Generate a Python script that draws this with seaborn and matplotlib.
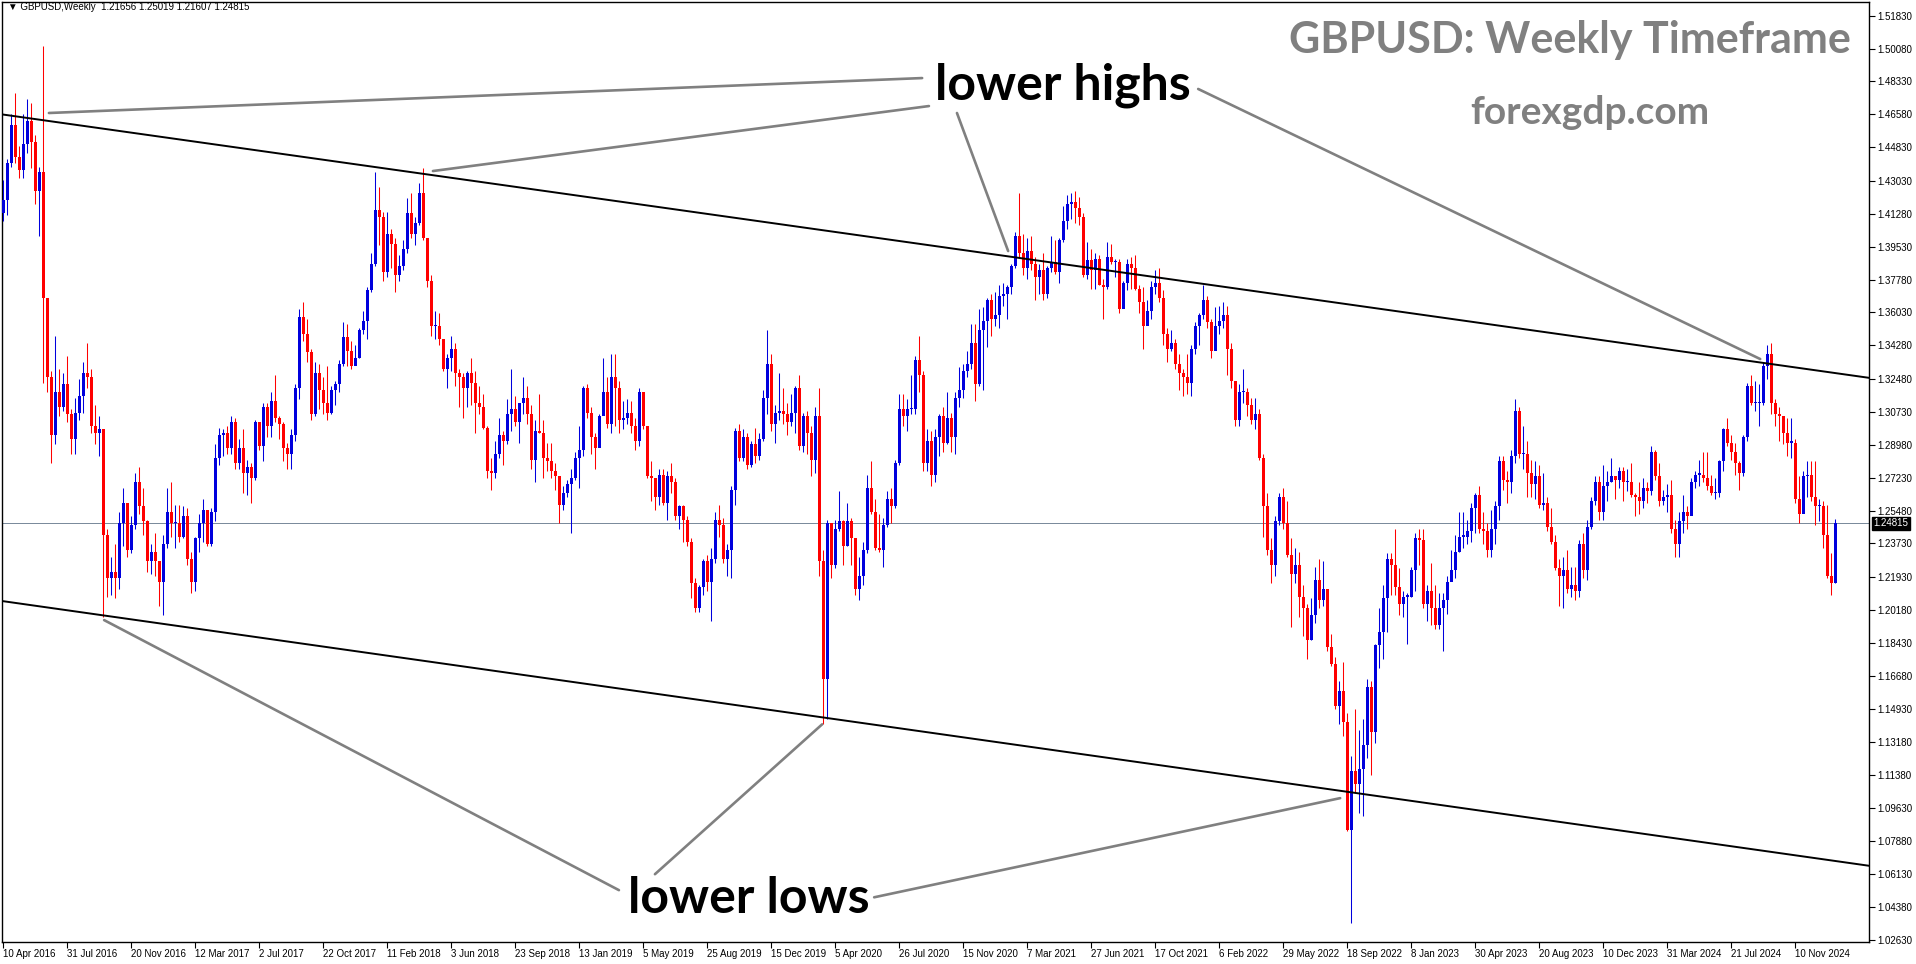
import numpy as np
import matplotlib
matplotlib.use("Agg")
import matplotlib.pyplot as plt
import seaborn as sns

# GBPUSD weekly candles, one value per week (week starts on Sunday 10 Apr 2016)
first_open = 1.413

close_2016 = [1.420, 1.440, 1.460, 1.443, 1.436, 1.450, 1.462, 1.451, 1.425, 1.435,
              1.368, 1.326, 1.295, 1.318, 1.310, 1.322, 1.306, 1.293, 1.307, 1.316,
              1.328, 1.326, 1.300, 1.296, 1.298, 1.242, 1.219, 1.222, 1.219, 1.248,
              1.259, 1.234, 1.247, 1.270, 1.257, 1.249, 1.228, 1.233]
high_2016 = [1.431, 1.442, 1.466, 1.477, 1.449, 1.466, 1.474, 1.472, 1.455, 1.438,
             1.502, 1.353, 1.329, 1.348, 1.330, 1.328, 1.337, 1.309, 1.315, 1.325,
             1.334, 1.344, 1.330, 1.311, 1.305, 1.291, 1.245, 1.230, 1.237, 1.254,
             1.267, 1.255, 1.252, 1.275, 1.278, 1.267, 1.250, 1.237]
low_2016 = [1.409, 1.412, 1.438, 1.440, 1.432, 1.432, 1.445, 1.437, 1.418, 1.401,
            1.323, 1.318, 1.280, 1.290, 1.305, 1.308, 1.302, 1.285, 1.285, 1.303,
            1.307, 1.320, 1.296, 1.290, 1.284, 1.198, 1.209, 1.210, 1.208, 1.213,
            1.236, 1.230, 1.232, 1.245, 1.253, 1.242, 1.222, 1.221]

close_2017 = [1.228, 1.217, 1.237, 1.254, 1.248, 1.248, 1.241, 1.252, 1.229, 1.217,
              1.240, 1.248, 1.255, 1.237, 1.254, 1.283, 1.295, 1.296, 1.288, 1.302,
              1.280, 1.288, 1.275, 1.278, 1.272, 1.302, 1.289, 1.310, 1.300, 1.313,
              1.304, 1.301, 1.288, 1.285, 1.295, 1.320, 1.358, 1.349, 1.339, 1.306,
              1.328, 1.319, 1.312, 1.307, 1.319, 1.322, 1.333, 1.347, 1.340, 1.332,
              1.336, 1.351, 1.356]
high_2017 = [1.243, 1.226, 1.242, 1.267, 1.270, 1.258, 1.258, 1.257, 1.256, 1.233,
             1.241, 1.253, 1.261, 1.255, 1.256, 1.290, 1.299, 1.298, 1.300, 1.305,
             1.304, 1.293, 1.298, 1.282, 1.280, 1.303, 1.302, 1.312, 1.312, 1.318,
             1.327, 1.305, 1.302, 1.291, 1.298, 1.322, 1.362, 1.366, 1.357, 1.341,
             1.334, 1.333, 1.326, 1.332, 1.321, 1.324, 1.335, 1.355, 1.354, 1.345,
             1.343, 1.352, 1.361]
low_2017 = [1.220, 1.204, 1.199, 1.235, 1.241, 1.235, 1.238, 1.240, 1.226, 1.211,
            1.212, 1.233, 1.238, 1.236, 1.236, 1.249, 1.279, 1.284, 1.285, 1.285,
            1.277, 1.277, 1.264, 1.263, 1.259, 1.271, 1.287, 1.281, 1.294, 1.294,
            1.302, 1.293, 1.281, 1.277, 1.277, 1.292, 1.314, 1.345, 1.334, 1.303,
            1.305, 1.309, 1.306, 1.303, 1.306, 1.311, 1.318, 1.332, 1.332, 1.330,
            1.333, 1.336, 1.349]

close_2018 = [1.372, 1.386, 1.415, 1.411, 1.382, 1.402, 1.397, 1.380, 1.385, 1.394,
              1.413, 1.402, 1.408, 1.424, 1.400, 1.377, 1.353, 1.353, 1.346, 1.330,
              1.336, 1.341, 1.328, 1.326, 1.320, 1.328, 1.323, 1.312, 1.310, 1.299,
              1.276, 1.275, 1.285, 1.295, 1.292, 1.306, 1.309, 1.302, 1.312, 1.315,
              1.306, 1.282, 1.297, 1.296, 1.283, 1.281, 1.276, 1.273, 1.258, 1.264,
              1.269, 1.272]
high_2018 = [1.374, 1.392, 1.435, 1.427, 1.414, 1.414, 1.405, 1.400, 1.391, 1.399,
             1.421, 1.424, 1.411, 1.429, 1.437, 1.400, 1.380, 1.361, 1.360, 1.346,
             1.338, 1.348, 1.344, 1.330, 1.328, 1.329, 1.336, 1.329, 1.321, 1.317,
             1.300, 1.283, 1.292, 1.304, 1.297, 1.314, 1.330, 1.316, 1.312, 1.326,
             1.321, 1.311, 1.303, 1.317, 1.303, 1.291, 1.291, 1.280, 1.270, 1.268,
             1.271, 1.277]
low_2018 = [1.346, 1.371, 1.385, 1.396, 1.377, 1.379, 1.384, 1.371, 1.377, 1.383,
            1.392, 1.400, 1.396, 1.407, 1.399, 1.374, 1.348, 1.346, 1.343, 1.329,
            1.320, 1.329, 1.321, 1.310, 1.304, 1.310, 1.311, 1.296, 1.306, 1.298,
            1.272, 1.266, 1.272, 1.283, 1.279, 1.290, 1.297, 1.300, 1.291, 1.306,
            1.301, 1.277, 1.270, 1.296, 1.272, 1.276, 1.272, 1.266, 1.248, 1.255,
            1.262, 1.243]

close_2019 = [1.283, 1.287, 1.320, 1.307, 1.294, 1.288, 1.305, 1.318, 1.301, 1.326,
              1.320, 1.303, 1.304, 1.307, 1.300, 1.292, 1.318, 1.300, 1.273, 1.272,
              1.262, 1.274, 1.259, 1.273, 1.270, 1.252, 1.257, 1.250, 1.238, 1.216,
              1.203, 1.214, 1.228, 1.217, 1.229, 1.250, 1.247, 1.229, 1.234, 1.266,
              1.297, 1.283, 1.294, 1.279, 1.290, 1.284, 1.293, 1.315, 1.333, 1.301,
              1.307, 1.308]
high_2019 = [1.286, 1.300, 1.321, 1.322, 1.310, 1.296, 1.306, 1.336, 1.326, 1.338,
             1.338, 1.324, 1.313, 1.314, 1.313, 1.304, 1.320, 1.318, 1.300, 1.281,
             1.272, 1.277, 1.277, 1.276, 1.280, 1.272, 1.258, 1.258, 1.252, 1.240,
             1.219, 1.215, 1.229, 1.231, 1.235, 1.254, 1.258, 1.251, 1.237, 1.268,
             1.299, 1.301, 1.298, 1.296, 1.292, 1.299, 1.296, 1.319, 1.351, 1.338,
             1.311, 1.328]
low_2019 = [1.271, 1.267, 1.284, 1.304, 1.285, 1.277, 1.290, 1.306, 1.299, 1.296,
            1.300, 1.296, 1.298, 1.301, 1.296, 1.287, 1.289, 1.298, 1.272, 1.260,
            1.255, 1.258, 1.258, 1.250, 1.264, 1.250, 1.245, 1.238, 1.236, 1.208,
            1.201, 1.201, 1.210, 1.212, 1.196, 1.227, 1.241, 1.227, 1.220, 1.219,
            1.258, 1.281, 1.281, 1.277, 1.278, 1.280, 1.282, 1.292, 1.306, 1.297,
            1.291, 1.303]

close_2020 = [1.306, 1.302, 1.307, 1.320, 1.289, 1.305, 1.296, 1.282, 1.305, 1.228,
              1.165, 1.248, 1.226, 1.245, 1.249, 1.236, 1.249, 1.240, 1.213, 1.220,
              1.234, 1.267, 1.254, 1.235, 1.234, 1.247, 1.261, 1.257, 1.280, 1.309,
              1.305, 1.309, 1.309, 1.335, 1.327, 1.280, 1.292, 1.274, 1.294, 1.305,
              1.291, 1.304, 1.294, 1.315, 1.319, 1.329, 1.333, 1.344, 1.322, 1.351,
              1.356, 1.367]
high_2020 = [1.320, 1.312, 1.317, 1.321, 1.327, 1.307, 1.308, 1.300, 1.310, 1.320,
             1.234, 1.250, 1.248, 1.250, 1.265, 1.250, 1.259, 1.251, 1.240, 1.230,
             1.238, 1.274, 1.281, 1.261, 1.253, 1.251, 1.265, 1.267, 1.282, 1.317,
             1.317, 1.314, 1.327, 1.337, 1.348, 1.329, 1.298, 1.297, 1.298, 1.306,
             1.310, 1.318, 1.307, 1.318, 1.331, 1.333, 1.340, 1.354, 1.354, 1.362,
             1.363, 1.368]
low_2020 = [1.301, 1.295, 1.300, 1.296, 1.287, 1.286, 1.285, 1.273, 1.275, 1.220,
            1.141, 1.144, 1.219, 1.224, 1.244, 1.226, 1.236, 1.226, 1.210, 1.207,
            1.215, 1.232, 1.253, 1.234, 1.233, 1.225, 1.246, 1.248, 1.256, 1.279,
            1.300, 1.297, 1.306, 1.306, 1.318, 1.276, 1.276, 1.268, 1.270, 1.284,
            1.286, 1.290, 1.286, 1.285, 1.310, 1.315, 1.326, 1.330, 1.313, 1.321,
            1.319, 1.342]

close_2021 = [1.357, 1.359, 1.369, 1.370, 1.374, 1.385, 1.401, 1.392, 1.384, 1.393,
              1.386, 1.379, 1.383, 1.370, 1.384, 1.387, 1.382, 1.399, 1.409, 1.418,
              1.419, 1.416, 1.411, 1.380, 1.388, 1.383, 1.389, 1.375, 1.374, 1.390,
              1.387, 1.387, 1.362, 1.376, 1.386, 1.384, 1.373, 1.366, 1.353, 1.361,
              1.374, 1.376, 1.368, 1.349, 1.341, 1.344, 1.333, 1.328, 1.326, 1.323,
              1.341, 1.353]
high_2021 = [1.370, 1.371, 1.375, 1.376, 1.375, 1.386, 1.403, 1.424, 1.402, 1.400,
             1.401, 1.390, 1.386, 1.392, 1.385, 1.401, 1.399, 1.400, 1.417, 1.423,
             1.424, 1.425, 1.422, 1.413, 1.398, 1.394, 1.392, 1.391, 1.378, 1.398,
             1.397, 1.389, 1.389, 1.377, 1.389, 1.390, 1.391, 1.375, 1.374, 1.367,
             1.377, 1.383, 1.384, 1.372, 1.352, 1.351, 1.346, 1.338, 1.330, 1.338,
             1.343, 1.355]
low_2021 = [1.348, 1.353, 1.352, 1.364, 1.357, 1.370, 1.384, 1.390, 1.380, 1.378,
            1.383, 1.367, 1.370, 1.367, 1.368, 1.382, 1.381, 1.376, 1.398, 1.405,
            1.410, 1.408, 1.407, 1.379, 1.378, 1.373, 1.373, 1.375, 1.357, 1.373,
            1.386, 1.379, 1.360, 1.363, 1.372, 1.373, 1.372, 1.360, 1.341, 1.354,
            1.357, 1.370, 1.366, 1.343, 1.334, 1.340, 1.330, 1.319, 1.316, 1.317,
            1.316, 1.338]

close_2022 = [1.359, 1.367, 1.355, 1.340, 1.353, 1.356, 1.359, 1.341, 1.324, 1.303,
              1.318, 1.318, 1.311, 1.303, 1.306, 1.283, 1.257, 1.234, 1.226, 1.249,
              1.262, 1.248, 1.231, 1.221, 1.226, 1.209, 1.203, 1.186, 1.199, 1.218,
              1.207, 1.213, 1.182, 1.173, 1.151, 1.159, 1.142, 1.085, 1.116, 1.109,
              1.117, 1.130, 1.161, 1.137, 1.183, 1.190, 1.208, 1.229, 1.226, 1.214,
              1.205, 1.209]
high_2022 = [1.360, 1.375, 1.369, 1.357, 1.363, 1.364, 1.366, 1.364, 1.344, 1.324,
             1.322, 1.330, 1.320, 1.315, 1.315, 1.309, 1.285, 1.264, 1.240, 1.252,
             1.264, 1.267, 1.260, 1.240, 1.235, 1.233, 1.215, 1.205, 1.208, 1.225,
             1.229, 1.228, 1.212, 1.189, 1.177, 1.164, 1.174, 1.147, 1.124, 1.149,
             1.138, 1.144, 1.165, 1.164, 1.184, 1.203, 1.215, 1.232, 1.232, 1.245,
             1.224, 1.212]
low_2022 = [1.343, 1.357, 1.352, 1.336, 1.341, 1.349, 1.352, 1.327, 1.320, 1.300,
            1.300, 1.312, 1.305, 1.301, 1.298, 1.282, 1.241, 1.231, 1.216, 1.220,
            1.247, 1.245, 1.230, 1.193, 1.216, 1.198, 1.188, 1.176, 1.186, 1.195,
            1.203, 1.204, 1.180, 1.172, 1.149, 1.141, 1.135, 1.084, 1.035, 1.105,
            1.094, 1.092, 1.123, 1.114, 1.131, 1.171, 1.176, 1.190, 1.210, 1.210,
            1.199, 1.198]

close_2023 = [1.209, 1.223, 1.240, 1.239, 1.205, 1.212, 1.203, 1.194, 1.203, 1.207,
              1.217, 1.223, 1.233, 1.241, 1.241, 1.244, 1.256, 1.263, 1.245, 1.244,
              1.234, 1.245, 1.257, 1.281, 1.271, 1.270, 1.284, 1.308, 1.285, 1.285,
              1.275, 1.269, 1.273, 1.258, 1.259, 1.246, 1.238, 1.224, 1.220, 1.223,
              1.213, 1.215, 1.212, 1.237, 1.223, 1.246, 1.260, 1.270, 1.254, 1.268,
              1.270, 1.273, 1.271]
high_2023 = [1.211, 1.225, 1.243, 1.245, 1.245, 1.215, 1.227, 1.215, 1.211, 1.211,
             1.220, 1.234, 1.242, 1.254, 1.254, 1.250, 1.259, 1.264, 1.268, 1.254,
             1.248, 1.255, 1.260, 1.284, 1.284, 1.276, 1.287, 1.314, 1.310, 1.300,
             1.292, 1.282, 1.281, 1.279, 1.275, 1.262, 1.256, 1.242, 1.229, 1.230,
             1.234, 1.225, 1.225, 1.239, 1.243, 1.250, 1.262, 1.273, 1.273, 1.279,
             1.276, 1.283, 1.273]
low_2023 = [1.184, 1.209, 1.212, 1.226, 1.203, 1.196, 1.194, 1.192, 1.192, 1.180,
            1.200, 1.218, 1.219, 1.233, 1.235, 1.237, 1.238, 1.243, 1.243, 1.237,
            1.230, 1.230, 1.237, 1.250, 1.266, 1.259, 1.264, 1.280, 1.283, 1.277,
            1.262, 1.262, 1.261, 1.256, 1.255, 1.244, 1.237, 1.223, 1.204, 1.203,
            1.211, 1.209, 1.207, 1.209, 1.219, 1.218, 1.245, 1.258, 1.250, 1.250,
            1.260, 1.270, 1.261]

close_2024 = [1.276, 1.270, 1.270, 1.263, 1.262, 1.260, 1.267, 1.265, 1.286, 1.273,
              1.260, 1.262, 1.263, 1.245, 1.237, 1.249, 1.254, 1.252, 1.270, 1.274,
              1.274, 1.272, 1.268, 1.264, 1.264, 1.281, 1.298, 1.291, 1.286, 1.280,
              1.275, 1.294, 1.321, 1.312, 1.312, 1.312, 1.332, 1.338, 1.312, 1.306,
              1.305, 1.296, 1.291, 1.291, 1.261, 1.253, 1.273, 1.274, 1.262, 1.257,
              1.257, 1.242]
high_2024 = [1.278, 1.278, 1.277, 1.280, 1.264, 1.270, 1.272, 1.270, 1.289, 1.287,
             1.280, 1.266, 1.269, 1.271, 1.250, 1.254, 1.263, 1.257, 1.272, 1.276,
             1.282, 1.286, 1.286, 1.274, 1.272, 1.282, 1.299, 1.304, 1.295, 1.291,
             1.281, 1.295, 1.323, 1.327, 1.324, 1.322, 1.334, 1.343, 1.344, 1.314,
             1.310, 1.305, 1.304, 1.304, 1.293, 1.273, 1.276, 1.281, 1.281, 1.281,
             1.261, 1.260]
low_2024 = [1.267, 1.260, 1.265, 1.262, 1.252, 1.253, 1.256, 1.259, 1.263, 1.271,
            1.257, 1.258, 1.254, 1.243, 1.230, 1.230, 1.243, 1.245, 1.253, 1.267,
            1.268, 1.270, 1.266, 1.263, 1.261, 1.262, 1.276, 1.289, 1.282, 1.274,
            1.266, 1.273, 1.292, 1.311, 1.308, 1.300, 1.311, 1.325, 1.306, 1.300,
            1.292, 1.290, 1.284, 1.283, 1.259, 1.248, 1.255, 1.262, 1.260, 1.247,
            1.249, 1.235]

close_2025 = [1.220, 1.216, 1.24815]
high_2025 = [1.258, 1.232, 1.25019]
low_2025 = [1.219, 1.210, 1.21607]

last_price = 1.24815

# right price scale labels as printed by the terminal
price_labels = ["1.51830", "1.50080", "1.48330", "1.46580", "1.44830", "1.43030",
                "1.41280", "1.39530", "1.37780", "1.36030", "1.34280", "1.32480",
                "1.30730", "1.28980", "1.27230", "1.25480", "1.23730", "1.21930",
                "1.20180", "1.18430", "1.16680", "1.14930", "1.13180", "1.11380",
                "1.09630", "1.07880", "1.06130", "1.04380", "1.02630"]

# one date label every 16 weekly bars
date_labels = ["10 Apr 2016", "31 Jul 2016", "20 Nov 2016", "12 Mar 2017", "2 Jul 2017",
               "22 Oct 2017", "11 Feb 2018", "3 Jun 2018", "23 Sep 2018", "13 Jan 2019",
               "5 May 2019", "25 Aug 2019", "15 Dec 2019", "5 Apr 2020", "26 Jul 2020",
               "15 Nov 2020", "7 Mar 2021", "27 Jun 2021", "17 Oct 2021", "6 Feb 2022",
               "29 May 2022", "18 Sep 2022", "8 Jan 2023", "30 Apr 2023", "20 Aug 2023",
               "10 Dec 2023", "31 Mar 2024", "21 Jul 2024", "10 Nov 2024"]
label_step = 16

# channel lines and pointer lines, (bar index, price) end points
upper_channel = [(-0.15, 1.4657), (466.7, 1.3254)]
lower_channel = [(-0.15, 1.2066), (466.7, 1.0656)]
pointer_lines = [
    [(11.4, 1.4665), (229.7, 1.4851)],
    [(107.4, 1.4356), (231.4, 1.4702)],
    [(238.4, 1.4665), (251.2, 1.3930)],
    [(298.7, 1.4793), (439.2, 1.3355)],
    [(25.2, 1.1965), (153.9, 1.0527)],
    [(162.9, 1.0612), (204.7, 1.1410)],
    [(217.7, 1.0489), (334.2, 1.1017)],
]

BULL = "#0000dd"
BEAR = "#ff0000"
GREY = "#808080"

sns.set_theme(style="white")
plt.rcParams["font.family"] = ["Liberation Sans", "DejaVu Sans"]

closes = np.array(close_2016 + close_2017 + close_2018 + close_2019 + close_2020
                  + close_2021 + close_2022 + close_2023 + close_2024 + close_2025)
highs = np.array(high_2016 + high_2017 + high_2018 + high_2019 + high_2020
                 + high_2021 + high_2022 + high_2023 + high_2024 + high_2025)
lows = np.array(low_2016 + low_2017 + low_2018 + low_2019 + low_2020
                + low_2021 + low_2022 + low_2023 + low_2024 + low_2025)
opens = np.concatenate([[first_open], closes[:-1]])
bars = np.arange(len(closes))

W, H = 1916, 964
fig = plt.figure(figsize=(W / 100, H / 100), dpi=100)
fig.patch.set_facecolor("white")
ax = fig.add_axes([2 / W, 22 / H, 1867 / W, 940 / H])
ax.set_facecolor("white")

up = closes >= opens
colors = np.where(up, BULL, BEAR)

# wicks then bodies
ax.vlines(bars, lows, highs, colors=colors, linewidth=0.75, zorder=3)
body_low = np.minimum(opens, closes)
body_h = np.maximum(np.abs(closes - opens), 0.0006)
ax.bar(bars, body_h, bottom=body_low, width=0.72, color=colors, linewidth=0, zorder=4)

# channel
for (x0, y0), (x1, y1) in (upper_channel, lower_channel):
    sns.lineplot(x=[x0, x1], y=[y0, y1], ax=ax, color="black", linewidth=1.4,
                 estimator=None, sort=False, zorder=5)

for (x0, y0), (x1, y1) in pointer_lines:
    sns.lineplot(x=[x0, x1], y=[y0, y1], ax=ax, color=GREY, linewidth=1.9,
                 estimator=None, sort=False, zorder=6)

# current price
ax.axhline(last_price, color="#778899", linewidth=0.7, zorder=2)

ax.set_xlim(-0.325, 466.4)
ax.set_ylim(1.0251, 1.5256)

# right price scale
ax.yaxis.tick_right()
ax.set_yticks([float(s) for s in price_labels])
ax.set_yticklabels(price_labels)
ax.tick_params(axis="y", which="major", direction="out", length=4, width=0.8,
               color="black", labelsize=7, labelcolor="black", pad=2, right=True, left=False)

ax.set_xticks(bars[::label_step][:len(date_labels)])
ax.set_xticklabels(date_labels, ha="left")
ax.tick_params(axis="x", which="major", direction="out", length=4, width=0.8,
               color="black", labelsize=7, labelcolor="black", pad=1, bottom=True)

for sp in ax.spines.values():
    sp.set_color("black")
    sp.set_linewidth(1.0)
    sp.set_visible(True)
ax.grid(False)

ax.annotate(f"{last_price:.5f}", xy=(1.0, last_price), xycoords=("axes fraction", "data"),
            xytext=(3, 0), textcoords="offset points", ha="left", va="center",
            fontsize=7, color="white", annotation_clip=False,
            bbox=dict(boxstyle="square,pad=0.15", fc="black", ec="black"))

# header and annotations
fig.text(8 / W, 1 - 7 / H, "\u25bc GBPUSD,Weekly  1.21656 1.25019 1.21607 1.24815",
         fontsize=7, color="black", va="center", ha="left",
         family=["Liberation Sans", "DejaVu Sans"])

fig.text(1289 / W, 1 - 53 / H, "GBPUSD: Weekly Timeframe", fontsize=31, fontweight="bold",
         color=GREY, ha="left", va="baseline", family=["Lato", "DejaVu Sans"])
fig.text(1470 / W, 1 - 124 / H, "forexgdp.com", fontsize=28, fontweight="bold",
         color=GREY, ha="left", va="baseline", family=["Lato", "DejaVu Sans"])

fig.text(935 / W, 1 - 100 / H, "lower highs", fontsize=36, fontweight="bold",
         color="black", ha="left", va="baseline", family=["Lato", "DejaVu Sans"])
fig.text(628 / W, 1 - 913 / H, "lower lows", fontsize=36, fontweight="bold",
         color="black", ha="left", va="baseline", family=["Lato", "DejaVu Sans"])

fig.savefig("out.png", dpi=100, facecolor="white")
plt.close(fig)
